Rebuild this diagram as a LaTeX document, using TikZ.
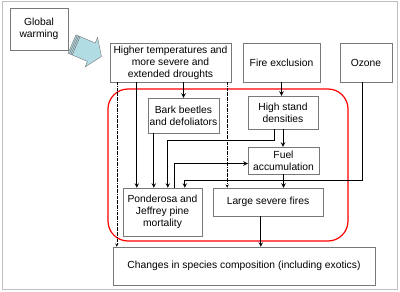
\documentclass[tikz,border=0pt]{standalone}
\usepackage{fontspec}
\setmainfont{Liberation Sans}
\definecolor{skyfill}{RGB}{178,220,228}
\definecolor{boxline}{RGB}{120,120,120}
\tikzset{
  box/.style={draw=boxline, fill=white, align=center, inner sep=1pt,
    font=\fontsize{10.3}{12}\selectfont},
  link/.style={->, line width=1pt},
  hint/.style={->, densely dashdotted, line width=0.5pt}
}
\begin{document}
\begin{tikzpicture}[x=1pt,y=-1pt,>=stealth]
\useasboundingbox (0,0) rectangle (400,292);
\draw[gray!50] (2,1) rectangle (397,289);

% the red ring round the forest processes
\draw[red, line width=1.2pt, rounded corners=20pt] (108,89) rectangle (348,241);

% drivers
\node[box, minimum width=58pt, minimum height=42pt] (gw) at (39,29) {Global\\warming};
\node[box, minimum width=121pt, minimum height=39pt] (ht) at (170.5,62.5)
  {Higher temperatures and\\more severe and\\extended droughts};
\node[box, minimum width=77pt, minimum height=39pt] (fe) at (281.5,62.5) {Fire exclusion};
\node[box, minimum width=52pt, minimum height=39pt] (oz) at (366,62.5) {Ozone};

% block arrow from global warming
\begin{scope}[shift={(72,44)}, rotate=-23]
\draw[boxline, fill=skyfill] (0,-10) -- (21,-10) -- (21,-16) -- (32,0)
    -- (21,16) -- (21,10) -- (0,10) -- cycle;
\foreach \s in {1.5,3,4.5}
    \draw[boxline, line width=0.5pt] (\s,-10) -- (\s,10);
\end{scope}

% processes
\node[box, minimum width=71pt, minimum height=35pt] (bb) at (183.5,115.5) {Bark beetles\\and defoliators};
\node[box, minimum width=70pt, minimum height=33pt] (hs) at (283,112.5) {High stand\\densities};
\node[box, minimum width=71pt, minimum height=27pt] (fa) at (283.5,160.5) {Fuel\\accumulation};
\node[box, minimum width=110pt, minimum height=28pt] (lf) at (268,202) {Large severe fires};
\node[box, minimum width=79pt, minimum height=48pt] (pm) at (162.5,212)
  {Ponderosa and\\Jeffrey pine\\mortality};
\node[box, minimum width=262pt, minimum height=38pt] (ch) at (244,266)
  {Changes in species composition (including exotics)};

% links
\draw[link] (bb.north |- ht.south) -- (bb.north);
\draw[link] ([xshift=14pt]pm.north west |- ht.south) -- ([xshift=14pt]pm.north west);
\draw[link] ([xshift=31pt]pm.north west |- bb.south) -- ([xshift=31pt]pm.north west);
\draw[link] ([xshift=27pt]hs.south west) -- ++(0,11) -| ([xshift=45pt]pm.north west);
\draw[link] ([xshift=52pt]pm.north west) |- ([yshift=-3pt]fa.west);
\draw[link] ([xshift=-4pt]oz.south) -- ++(0,98) -| ([xshift=62pt]pm.north west);
\draw[link] (fe.south) -- (fe.south |- hs.north);
\draw[link] (hs.south) -- (hs.south |- fa.north);
\draw[link] (fa.south) -- (fa.south |- lf.north);
\draw[link] ([xshift=48pt]lf.south west) -- ([xshift=48pt]lf.south west |- ch.north);
\draw[hint] ([xshift=7pt]ht.south west) -- ([xshift=7pt]ht.south west |- ch.north);
\draw[hint] ([xshift=-4pt]ht.south east) -- ([xshift=-4pt]ht.south east |- lf.north);
\end{tikzpicture}
\end{document}
